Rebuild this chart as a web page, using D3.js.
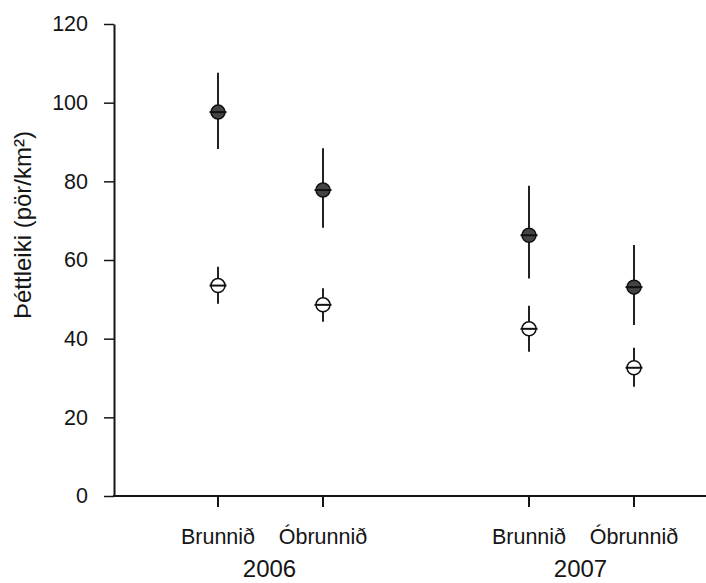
<!DOCTYPE html>
<html lang="is">
<head>
    <meta charset="UTF-8">
    <title>Þéttleiki</title>
    <script src="https://d3js.org/d3.v7.min.js"></script>
    <style>
        body { margin: 0; background: #fff; }
        svg text { font-family: "Liberation Sans", Arial, sans-serif; fill: #151515; }
    </style>
</head>
<body>
<div id="chart"></div>
<script>
// data, ordered 2006 Brunnið, 2006 Óbrunnið, 2007 Brunnið, 2007 Óbrunnið
const years = ["2006", "2007"];
const conditions = ["Brunnið", "Óbrunnið"];
const filledMean = [97.6, 77.8, 66.3, 53.1];
const filledLow  = [88.2, 68.2, 55.3, 43.5];
const filledHigh = [107.6, 88.4, 78.9, 63.8];
const openMean = [53.5, 48.6, 42.5, 32.6];
const openLow  = [48.9, 44.3, 36.7, 27.8];
const openHigh = [58.3, 52.8, 48.4, 37.7];
const yTicks = [0, 20, 40, 60, 80, 100, 120];

const width = 706, height = 583;
const plotLeft = 114, plotBottom = 496, plotTop = 24;

const svg = d3.select("#chart").append("svg")
    .attr("width", width)
    .attr("height", height);

const y = d3.scaleLinear().domain([0, 120]).range([plotBottom, plotTop]);
const xYear = d3.scalePoint().domain(years).range([270.5, 581.5]);
const xCond = d3.scalePoint().domain(conditions).range([-52.5, 52.5]);

// build rows
let rows = [];
years.forEach((yr, i) => {
  conditions.forEach((c, j) => {
    const k = i * conditions.length + j;
    rows.push({year: yr, cond: c, x: xYear(yr) + xCond(c), type: "filled",
               mean: filledMean[k], lo: filledLow[k], hi: filledHigh[k]});
    rows.push({year: yr, cond: c, x: xYear(yr) + xCond(c), type: "open",
               mean: openMean[k], lo: openLow[k], hi: openHigh[k]});
  });
});

// y axis
const yAxis = svg.append("g")
    .attr("transform", "translate(" + plotLeft + ",0)")
    .call(d3.axisLeft(y).tickValues(yTicks).tickSize(10).tickSizeOuter(0).tickPadding(16));
yAxis.attr("font-family", null).attr("font-size", null);
yAxis.select(".domain").attr("stroke", "#151515").attr("stroke-width", 2);
yAxis.selectAll(".tick line").attr("stroke", "#151515").attr("stroke-width", 1.5);
yAxis.selectAll(".tick text").style("font-size", "21.5px");

// x axis line + ticks
svg.append("line")
    .attr("x1", plotLeft - 1).attr("x2", width)
    .attr("y1", y(0)).attr("y2", y(0))
    .attr("stroke", "#151515").attr("stroke-width", 2);

const cats = rows.filter(d => d.type == "filled");
svg.selectAll(".xtick")
    .data(cats)
    .enter().append("line")
    .attr("x1", d => d.x).attr("x2", d => d.x)
    .attr("y1", y(0)).attr("y2", y(0) + 11)
    .attr("stroke", "#151515").attr("stroke-width", 2);

svg.selectAll(".xlab")
    .data(cats)
    .enter().append("text")
    .attr("x", d => d.x)
    .attr("y", 544)
    .style("text-anchor", "middle")
    .style("font-size", "21.5px")
    .text(d => d.cond);

svg.selectAll(".yearlab")
    .data(years)
    .enter().append("text")
    .attr("x", d => xYear(d) - 1)
    .attr("y", 577)
    .style("text-anchor", "middle")
    .style("font-size", "24px")
    .text(d => d);

// y title
svg.append("text")
    .attr("transform", "translate(31," + 225 + ") rotate(-90)")
    .style("text-anchor", "middle")
    .style("font-size", "24px")
    .text("Þéttleiki (pör/km²)");

// error bars
svg.selectAll(".err")
    .data(rows)
    .enter().append("line")
    .attr("x1", d => d.x).attr("x2", d => d.x)
    .attr("y1", d => y(d.lo)).attr("y2", d => y(d.hi))
    .attr("stroke", "#222")
    .attr("stroke-width", 2);

// markers
svg.selectAll(".pt")
    .data(rows)
    .enter().append("circle")
    .attr("cx", d => d.x)
    .attr("cy", d => y(d.mean))
    .attr("r", 7)
    .attr("fill", d => d.type == "filled" ? "#444" : "#fff")
    .attr("stroke", "#111")
    .attr("stroke-width", 1.5);

svg.selectAll(".mid")
    .data(rows)
    .enter().append("line")
    .attr("x1", d => d.x - 8.5).attr("x2", d => d.x + 8.5)
    .attr("y1", d => y(d.mean)).attr("y2", d => y(d.mean))
    .attr("stroke", "#111")
    .attr("stroke-width", 2);
</script>
</body>
</html>
